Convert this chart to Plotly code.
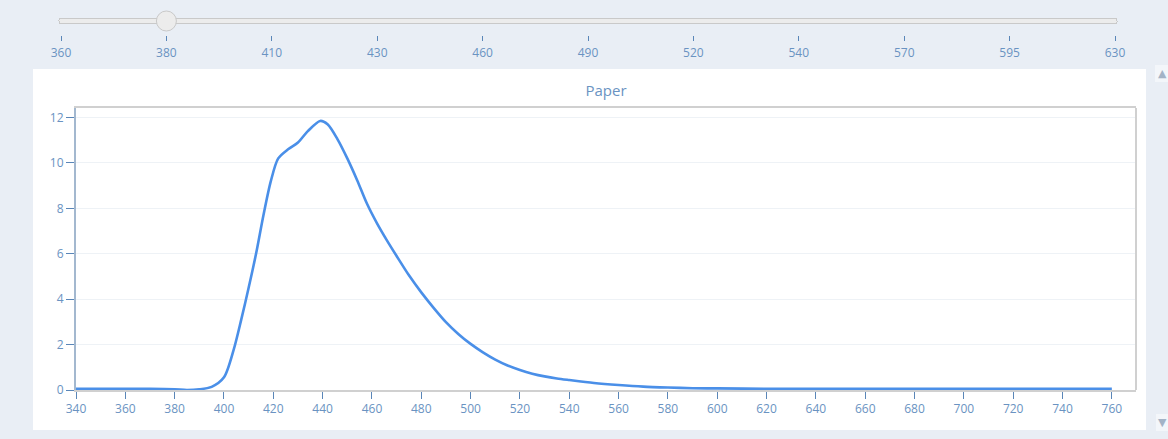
import plotly.graph_objects as go

# ---- data ----
wavelength = [340, 350, 360, 370, 380, 385, 390, 395, 400, 404, 407, 410, 413, 416, 419, 422,
              426, 430, 434, 439, 442, 446, 450, 454, 458, 462, 466, 470, 475, 480, 485, 490,
              495, 500, 505, 510, 515, 520, 525, 530, 535, 540, 550, 560, 570, 580, 590, 600,
              620, 640, 660, 680, 700, 720, 740, 760]
intensity = [0.05, 0.05, 0.05, 0.05, 0.03, 0.0, 0.03, 0.14, 0.56, 1.8, 3.1, 4.5, 6.0, 7.7, 9.2, 10.2,
             10.6, 10.9, 11.4, 11.85, 11.7, 11.05, 10.2, 9.24, 8.2, 7.35, 6.6, 5.9, 5.05, 4.3, 3.62, 2.99,
             2.47, 2.03, 1.66, 1.34, 1.08, 0.88, 0.72, 0.6, 0.51, 0.44, 0.31, 0.22, 0.15, 0.11, 0.08, 0.07,
             0.05, 0.05, 0.05, 0.05, 0.05, 0.05, 0.05, 0.05]
slider_labels = ['360', '380', '410', '430', '460', '490', '520', '540', '570', '595', '630']
slider_active = 1
x_ticks = list(range(340, 761, 20))
y_ticks = list(range(0, 13, 2))
title_text = 'Paper'

# ---- styling ----
BG = '#e9eef5'
TXT = '#6a93c2'
TICK = '#5a86b8'
FONT = 'Open Sans'

W, H = 1168, 439
ML, MR, MT, MB = 76, 32, 108, 49
plot_w = W - ML - MR
plot_h = H - MT - MB

fig = go.Figure()
fig.add_trace(go.Scatter(
    x=wavelength, y=intensity, mode='lines',
    line=dict(color='#4a8fe8', width=2.6, shape='spline', smoothing=0.8),
    hoverinfo='x+y', showlegend=False,
))

shapes = [
    # white panel
    dict(type='rect', xref='paper', yref='paper', layer='below',
         x0=(33 - ML) / plot_w, x1=(1146 - ML) / plot_w,
         y0=(H - MB - 430) / plot_h, y1=(H - MB - 69) / plot_h,
         fillcolor='white', line=dict(width=0)),
    # right frame line
    dict(type='line', xref='x domain', yref='y domain', x0=1, x1=1, y0=0, y1=1,
         line=dict(color='#d0d0d0', width=2)),
    # scrollbar boxes
    dict(type='rect', xref='paper', yref='paper', layer='below',
         x0=(1155 - ML) / plot_w, x1=(1168 - ML) / plot_w,
         y0=(H - MB - 82) / plot_h, y1=(H - MB - 65) / plot_h,
         fillcolor='#f3f6fa', line=dict(width=0)),
    dict(type='rect', xref='paper', yref='paper', layer='below',
         x0=(1156 - ML) / plot_w, x1=(1168 - ML) / plot_w,
         y0=(H - MB - 431) / plot_h, y1=(H - MB - 414) / plot_h,
         fillcolor='#f3f6fa', line=dict(width=0)),
]

annotations = [
    dict(text='▲', xref='paper', yref='paper', x=(1162 - ML) / plot_w, y=(H - MB - 73) / plot_h,
         xanchor='center', yanchor='middle',
         showarrow=False, font=dict(size=11, color='#a3b3c6', family='DejaVu Sans')),
    dict(text='▼', xref='paper', yref='paper', x=(1162 - ML) / plot_w, y=(H - MB - 422) / plot_h,
         xanchor='center', yanchor='middle',
         showarrow=False, font=dict(size=11, color='#a3b3c6', family='DejaVu Sans')),
]

slider_len = 1074
slider_left = 51
slider_top = 11

fig.update_layout(
    width=W, height=H,
    paper_bgcolor=BG, plot_bgcolor='white',
    margin=dict(l=ML, r=MR, t=MT, b=MB, autoexpand=False),
    font=dict(family=FONT, color=TXT, size=12),
    title=dict(text=title_text, x=0.5, xref='paper', y=1 - 91 / H, yref='container',
               xanchor='center', yanchor='middle',
               font=dict(size=15, color=TXT, family=FONT)),
    xaxis=dict(range=[340, 769.8], tickmode='array', tickvals=x_ticks,
               ticks='outside', ticklen=7, tickwidth=1.3, tickcolor=TICK,
               showgrid=False, zeroline=False,
               showline=True, linecolor='#d0d0d0', linewidth=2, mirror=True,
               tickfont=dict(size=12, color=TXT, family=FONT), fixedrange=True),
    yaxis=dict(range=[0, 12.42], tickmode='array', tickvals=y_ticks,
               ticks='outside', ticklen=8, tickwidth=1.3, tickcolor=TICK,
               showgrid=True, gridcolor='#eef2f6', gridwidth=1, zeroline=False,
               showline=True, linecolor='#a3b8cf', linewidth=2,
               tickfont=dict(size=12, color=TXT, family=FONT), fixedrange=True),
    shapes=shapes,
    annotations=annotations,
    sliders=[dict(
        active=slider_active,
        steps=[dict(label=l, method='skip', args=[None]) for l in slider_labels],
        x=(slider_left - ML) / plot_w, xanchor='left',
        y=1 + (MT - slider_top) / plot_h, yanchor='top',
        lenmode='pixels', len=slider_len,
        pad=dict(l=0, r=0, t=0, b=0),
        currentvalue=dict(visible=False, offset=0),
        bgcolor='#ececec', bordercolor='#c9c9c9', borderwidth=1,
        activebgcolor='#f2f2f2',
        tickcolor=TICK, ticklen=5, minorticklen=4, tickwidth=1,
        font=dict(size=12, color=TXT, family=FONT),
    )],
)

fig.write_html('out.html', config={'displayModeBar': False},
               post_script="document.body.style.margin='0';document.body.style.overflow='hidden';")
